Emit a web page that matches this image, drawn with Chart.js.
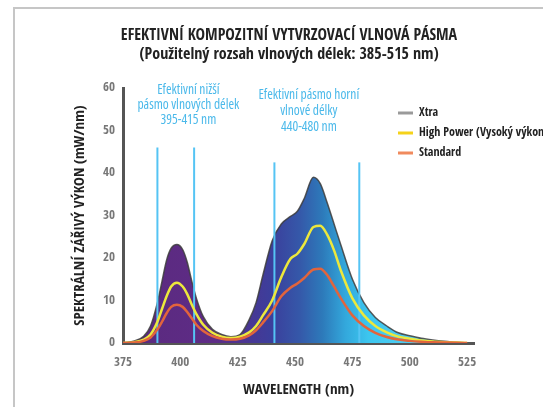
<!DOCTYPE html>
<html>
<head>
<meta charset="utf-8">
<script src="https://cdn.jsdelivr.net/npm/chart.js@4.4.1/dist/chart.umd.min.js"></script>
<style>
    html, body { margin: 0; padding: 0; background: #fff; }
</style>
</head>
<body>
<canvas id="spectrum-chart" width="543" height="407"></canvas>
<script>
var wavelengths = [375, 380, 384, 387, 390, 392, 394, 396, 398.5, 401,
                   403, 405, 407, 410, 414, 418, 422, 426, 430, 433,
                   436, 440, 444, 448, 451, 454, 458, 461, 464, 467,
                   470, 475, 480, 485, 490, 495, 500, 505, 510, 515, 520, 525];
var xtraPower = [0.1, 0.5, 1.6, 4, 9.5, 14.5, 19.5, 22.3, 23.2, 22,
                 19, 14.5, 10.5, 6.2, 3.2, 2, 1.5, 2, 5.5, 9.5,
                 16, 24, 28, 29.8, 31, 34, 39, 37.5, 33, 28,
                 23, 15, 9.5, 6, 4, 2.4, 1.7, 1.1, 0.7, 0.4, 0.2, 0];
var highPower = [0, 0.2, 0.8, 2, 5, 8, 11, 13.3, 14.2, 13.3,
                 11.5, 9, 6.8, 4.3, 2.4, 1.5, 1.2, 1.5, 2.5, 4,
                 6.5, 10, 15.5, 19.8, 21, 23.3, 27.3, 27.6, 25.5, 21.8,
                 17, 10.5, 6.5, 4, 2.5, 1.5, 1, 0.6, 0.35, 0.2, 0.1, 0];
var standardPower = [0, 0.1, 0.5, 1.3, 3.2, 5, 7, 8.5, 9, 8.5,
                     7.3, 5.8, 4.3, 2.8, 1.6, 1, 0.8, 1, 1.8, 3,
                     4.8, 7.5, 11, 13, 14, 15.3, 17.3, 17.5, 16, 13.3,
                     10.5, 6.5, 4, 2.4, 1.4, 0.8, 0.5, 0.3, 0.15, 0.1, 0.05, 0];
var xTicks = [375, 400, 425, 450, 475, 500, 525];
var bandLines = [390, 406, 441, 478];
var bandTops = [46, 46, 42.5, 42.5];
var titleLines = ["EFEKTIVNÍ KOMPOZITNÍ VYTVRZOVACÍ VLNOVÁ PÁSMA",
                  "(Použitelný rozsah vlnových délek: 385-515 nm)"];
var lowBandText = ["Efektivní nižší", "pásmo vlnových délek", "395-415 nm"];
var highBandText = ["Efektivní pásmo horní", "vlnové délky", "440-480 nm"];

var cond = "'Open Sans Condensed', 'Roboto Condensed', sans-serif";

function toPoints(values) {
    return wavelengths.map(function(w, i) { return {x: w, y: values[i]}; });
}

// purple -> blue -> cyan fill under the Xtra curve
function xtraGradient(context) {
    var chart = context.chart;
    if (!chart.chartArea) return null;
    var sx = chart.scales.x;
    var x0 = sx.getPixelForValue(375), x1 = sx.getPixelForValue(525);
    var g = chart.ctx.createLinearGradient(x0, 0, x1, 0);
    var stops = [[375, '#3a1d55'], [386, '#5b2a80'], [415, '#5e2c86'], [428, '#4b3592'],
                 [440, '#3b3f9c'], [452, '#3558a9'], [462, '#2d7aba'], [472, '#33a8dc'],
                 [482, '#3cc6ef'], [525, '#6cd7f5']];
    stops.forEach(function(s) { g.addColorStop((s[0] - 375) / 150, s[1]); });
    return g;
}

var datasets = [
    {
        label: "Xtra",
        data: toPoints(xtraPower),
        fill: 'origin',
        backgroundColor: xtraGradient,
        borderColor: "rgba(60,60,60,0.85)",
        borderWidth: 1.5,
        legendColor: "#9a9a9a",
        order: 4
    },
    {
        label: "High Power (Vysoký výkon)",
        data: toPoints(highPower),
        fill: false,
        borderColor: "#ece83c",
        borderWidth: 2.5,
        legendColor: "#f5d21a",
        order: 2
    },
    {
        label: "Standard",
        data: toPoints(standardPower),
        fill: false,
        borderColor: "#e2643c",
        borderWidth: 2.5,
        legendColor: "#f08a5d",
        order: 1
    }
];

bandLines.forEach(function(w, i) {
    datasets.push({
        label: "band" + i,
        data: [{x: w, y: 0}, {x: w, y: bandTops[i]}],
        fill: false,
        borderColor: "#55c4f4",
        borderWidth: 2,
        isBand: true,
        order: 3
    });
});

var decor = {
    id: 'decor',
    beforeDraw: function(chart) {
        var ctx = chart.ctx;
        ctx.save();
        ctx.fillStyle = '#fff';
        ctx.fillRect(0, 0, chart.width, chart.height);
        ctx.strokeStyle = '#c6c6c6';
        ctx.lineWidth = 2;
        ctx.beginPath();
        ctx.moveTo(14, chart.height);
        ctx.lineTo(14, 8);
        ctx.lineTo(chart.width, 8);
        ctx.stroke();
        ctx.restore();
    },
    afterDraw: function(chart) {
        var ctx = chart.ctx;
        var sx = chart.scales.x;
        ctx.save();
        ctx.textAlign = 'center';
        ctx.textBaseline = 'middle';

        // title
        ctx.fillStyle = '#222';
        ctx.font = "bold 16px " + cond;
        titleLines.forEach(function(t, i) {
            ctx.fillText(t, 289, 36 + i * 19);
        });

        // band captions, condensed
        ctx.fillStyle = '#4bb9ea';
        ctx.font = "400 13.5px 'Open Sans', sans-serif";
        if ('fontStretch' in ctx) ctx.fontStretch = 'condensed';
        lowBandText.forEach(function(t, i) {
            ctx.fillText(t, sx.getPixelForValue(403.5), 90 + i * 15);
        });
        highBandText.forEach(function(t, i) {
            ctx.fillText(t, sx.getPixelForValue(456), 95 + i * 16);
        });
        if ('fontStretch' in ctx) ctx.fontStretch = 'normal';

        // legend
        ctx.textAlign = 'left';
        ctx.font = "bold 12px " + cond;
        var y = 113;
        chart.data.datasets.forEach(function(ds) {
            if (ds.isBand) return;
            ctx.strokeStyle = ds.legendColor;
            ctx.lineWidth = 3;
            ctx.beginPath();
            ctx.moveTo(398, y);
            ctx.lineTo(413, y);
            ctx.stroke();
            ctx.fillStyle = '#222';
            ctx.fillText(ds.label, 419, y);
            y += 20;
        });
        ctx.restore();
    }
};

var context = document.getElementById("spectrum-chart");
window.spectrumChart = new Chart(context, {
    type: "line",
    data: { datasets: datasets },
    plugins: [decor],
    options: {
        responsive: false,
        animation: false,
        devicePixelRatio: 1,
        elements: {
            point: { radius: 0, hoverRadius: 0 },
            line: { cubicInterpolationMode: 'monotone' }
        },
        layout: { padding: { top: 88, right: 69, bottom: 0, left: 0 } },
        plugins: {
            legend: { display: false },
            tooltip: { enabled: false }
        },
        scales: {
            x: {
                type: 'linear',
                min: 375,
                max: 528,
                afterBuildTicks: function(scale) {
                    scale.ticks = xTicks.map(function(v) { return {value: v}; });
                },
                afterFit: function(scale) { scale.height = 64; },
                grid: { display: false, drawTicks: false },
                border: { color: '#555', width: 3 },
                ticks: { padding: 12, color: '#777', font: { family: cond, size: 13, weight: 'bold' } },
                title: {
                    display: true,
                    text: 'WAVELENGTH (nm)',
                    color: '#222',
                    font: { family: cond, size: 15, weight: 'bold' },
                    padding: { top: 0, bottom: 8 }
                }
            },
            y: {
                min: 0,
                max: 60,
                afterFit: function(scale) { scale.width = 123; },
                grid: { display: false, drawTicks: false },
                border: { color: '#555', width: 3 },
                ticks: { stepSize: 10, padding: 8, color: '#777', font: { family: cond, size: 13, weight: 'bold' } },
                title: {
                    display: true,
                    text: 'SPEKTRÁLNÍ ZÁŘIVÝ VÝKON (mW/nm)',
                    color: '#222',
                    font: { family: cond, size: 15, weight: 'bold' },
                    padding: { top: 71, bottom: 0 }
                }
            }
        }
    }
});
</script>
</body>
</html>
